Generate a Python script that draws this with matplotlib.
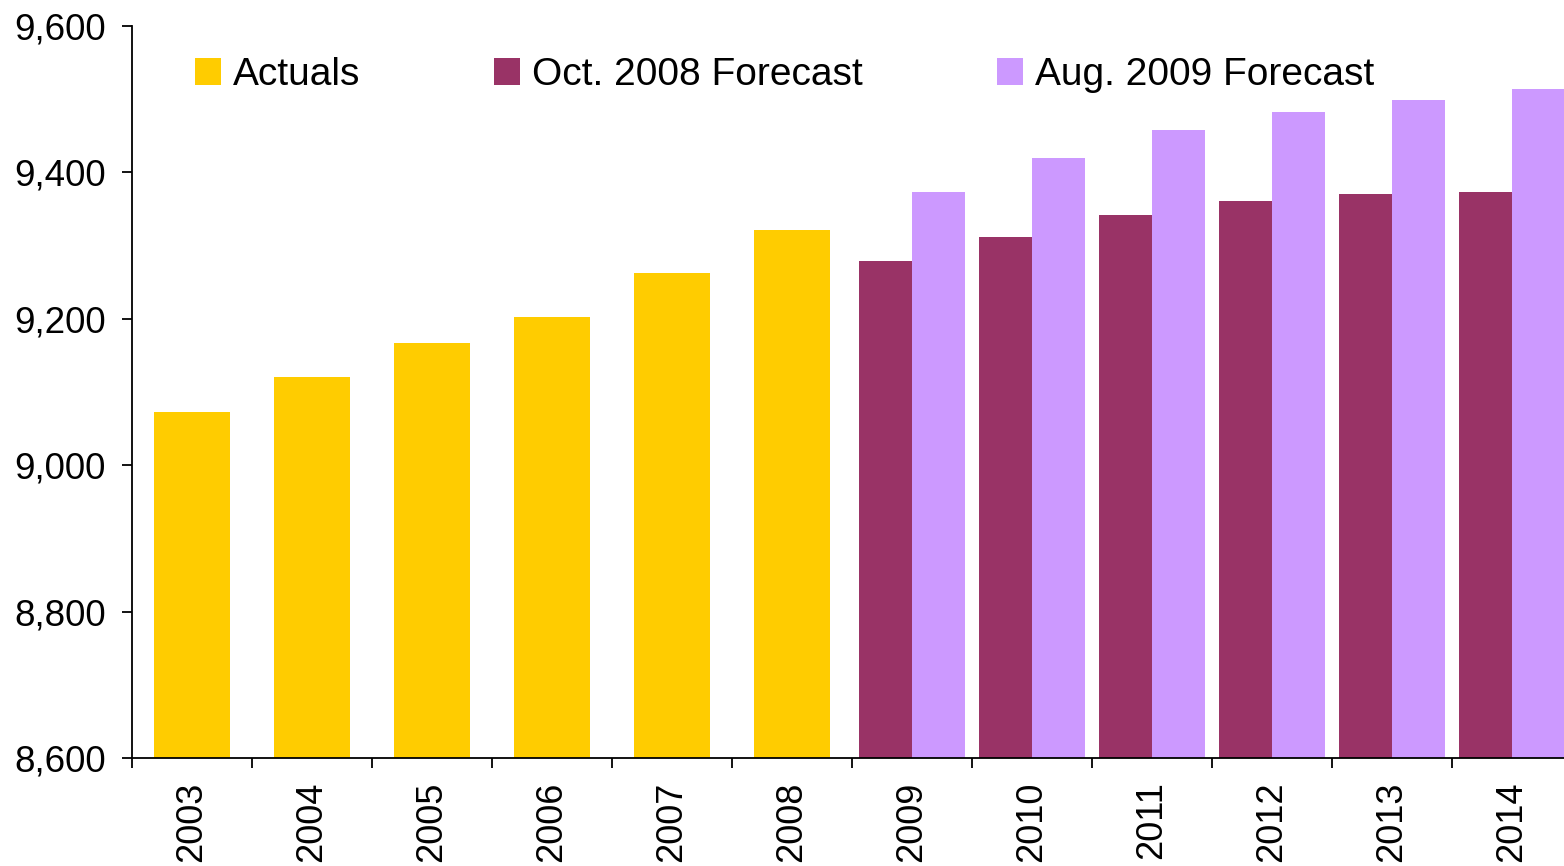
import matplotlib.pyplot as plt
from matplotlib.ticker import FuncFormatter, FixedLocator

plt.rcParams['font.family'] = ['Liberation Sans', 'DejaVu Sans']

years = ['2003', '2004', '2005', '2006', '2007', '2008',
         '2009', '2010', '2011', '2012', '2013', '2014']
actual_years = years[:6]
forecast_years = years[6:]
actuals = [9073, 9120, 9167, 9202, 9263, 9321]
oct_2008 = [9279, 9312, 9342, 9361, 9370, 9373]
aug_2009 = [9373, 9420, 9458, 9482, 9499, 9514]

fig = plt.figure(figsize=(15.64, 8.66), dpi=100)
ax = fig.add_axes([0.0844, 0.1247, 0.9207, 0.8453])

pos = {y: i for i, y in enumerate(years)}
xa = [pos[y] for y in actual_years]
xf = [pos[y] for y in forecast_years]

bw = 0.445
ax.bar(xa, [v - 8600 for v in actuals], bottom=8600, width=0.64,
       color='#FFCC00', label='Actuals')
ax.bar([x - bw for x in xf], [v - 8600 for v in oct_2008], bottom=8600,
       width=bw, align='edge', color='#993366', label='Oct. 2008 Forecast')
ax.bar(xf, [v - 8600 for v in aug_2009], bottom=8600,
       width=bw, align='edge', color='#CC99FF', label='Aug. 2009 Forecast')

ax.set_ylim(8600, 9600)
ax.set_xlim(-0.5, len(years) - 0.5)
ax.set_yticks(range(8600, 9601, 200))
ax.yaxis.set_major_formatter(FuncFormatter(lambda v, p: f'{int(v):,}'))

# ticks between categories, labels at the centres
ax.xaxis.set_major_locator(FixedLocator([i - 0.5 for i in range(len(years) + 1)]))
ax.xaxis.set_major_formatter(FuncFormatter(lambda v, p: ''))
ax.set_xticks(range(len(years)), years, minor=True, rotation=90)
ax.tick_params(axis='x', which='minor', length=0, pad=17, labelsize=26)
ax.tick_params(axis='x', which='major', length=7, width=1.3, direction='out')
ax.tick_params(axis='y', length=7, width=1.3, pad=12, labelsize=26.5)

for s in ['top', 'right']:
    ax.spines[s].set_visible(False)
for s in ['left', 'bottom']:
    ax.spines[s].set_linewidth(1.3)

fig.legend(loc='center left', bbox_to_anchor=(195 / 1564, 1 - 75 / 866),
           ncol=3, frameon=False, fontsize=28, borderpad=0, borderaxespad=0,
           handlelength=0.67, handleheight=0.67, handletextpad=0.3,
           columnspacing=3.45)

fig.savefig('out.png', dpi=100)
